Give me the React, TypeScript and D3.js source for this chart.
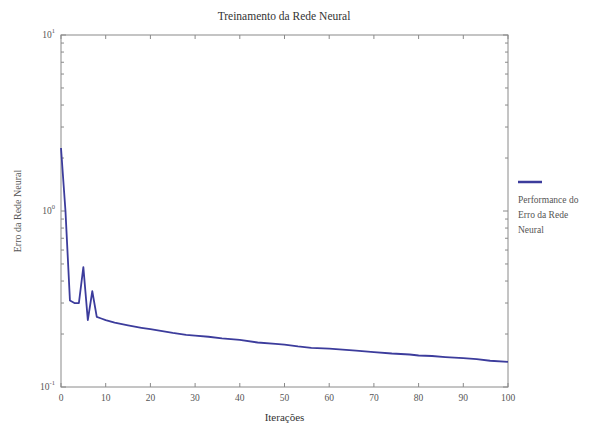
import { useMemo } from "react";
import * as d3 from "d3";

const W = 596;
const H = 424;
const M = { left: 61, right: 88, top: 35, bottom: 37 };

const iterations = [0, 1, 2, 3, 4, 5, 6, 7, 8, 9, 10, 12, 15, 18, 20, 22, 25, 28, 30, 33, 36, 40, 44, 48, 50, 53, 56, 60, 63, 66, 70, 74, 78, 80, 83, 86, 90, 93, 96, 100];
const errors = [2.28, 1.0, 0.31, 0.3, 0.3, 0.48, 0.24, 0.35, 0.25, 0.245, 0.24, 0.232, 0.224, 0.217, 0.213, 0.209, 0.203, 0.198, 0.196, 0.193, 0.189, 0.185, 0.179, 0.176, 0.174, 0.17, 0.167, 0.165, 0.163, 0.161, 0.158, 0.155, 0.153, 0.151, 0.15, 0.148, 0.146, 0.144, 0.141, 0.139];
const xTicks = [0, 10, 20, 30, 40, 50, 60, 70, 80, 90, 100];
const yMajor = [0.1, 1, 10];
const yExp = ["-1", "0", "1"];
const legendLines = ["Performance do", "Erro da Rede", "Neural"];

const AXIS = "#8a8a8a";
const TEXT = "#555";
const LINE = "#3c3c9c";
const FONT = "'Liberation Serif', 'DejaVu Serif', serif";

export default function App() {
  const iw = W - M.left - M.right;
  const ih = H - M.top - M.bottom;

  const x = d3.scaleLinear().domain([0, 100]).range([0, iw]);
  const y = d3.scaleLog().domain([0.1, 10]).range([ih, 0]);

  const path = useMemo(() => {
    const line = d3
      .line<number>()
      .x((_, i) => x(iterations[i]))
      .y((d) => y(d));
    return line(errors) || "";
  }, []);

  const minor: number[] = [];
  for (const base of [0.1, 1]) {
    for (let k = 2; k <= 9; k++) minor.push(base * k);
  }

  return (
    <svg width={W} height={H} style={{ position: "absolute", left: 0, top: 0, background: "#fff" }} fontFamily={FONT}>
      <text x={W / 2 - 14} y={20} textAnchor="middle" fontSize={11.5} fill="#333">
        Treinamento da Rede Neural
      </text>
      <g transform={`translate(${M.left},${M.top})`}>
        <rect x={0} y={0} width={iw} height={ih} fill="none" stroke={AXIS} strokeWidth={1} />
        {xTicks.map((t) => (
          <g key={t}>
            <line x1={x(t)} x2={x(t)} y1={ih} y2={ih - 4} stroke={AXIS} />
            <line x1={x(t)} x2={x(t)} y1={0} y2={4} stroke={AXIS} />
            <text x={x(t)} y={ih + 14} textAnchor="middle" fontSize={9.5} fill={TEXT}>
              {t}
            </text>
          </g>
        ))}
        {minor.map((v) => (
          <g key={v}>
            <line x1={0} x2={3} y1={y(v)} y2={y(v)} stroke={AXIS} />
            <line x1={iw} x2={iw - 3} y1={y(v)} y2={y(v)} stroke={AXIS} />
          </g>
        ))}
        {yMajor.map((v, i) => (
          <g key={v}>
            <line x1={0} x2={5} y1={y(v)} y2={y(v)} stroke={AXIS} />
            <line x1={iw} x2={iw - 5} y1={y(v)} y2={y(v)} stroke={AXIS} />
            <text x={-6} y={y(v) + 3} textAnchor="end" fontSize={9.5} fill={TEXT}>
              10
              <tspan dy={-5} fontSize={6.5}>
                {yExp[i]}
              </tspan>
            </text>
          </g>
        ))}
        <path d={path} fill="none" stroke={LINE} strokeWidth={1.8} strokeLinejoin="round" />
        <text x={iw / 2} y={ih + 34} textAnchor="middle" fontSize={11} fill="#333">
          Iterações
        </text>
        <text
          transform={`translate(${-40},${ih / 2}) rotate(-90)`}
          textAnchor="middle"
          fontSize={10}
          fill={TEXT}
        >
          Erro da Rede Neural
        </text>
      </g>
      <g transform={`translate(${M.left + iw + 10},${182})`}>
        <line x1={0} x2={24} y1={0} y2={0} stroke={LINE} strokeWidth={2.5} />
        {legendLines.map((s, i) => (
          <text key={s} x={0} y={21 + i * 15} fontSize={9.5} fill={TEXT}>
            {s}
          </text>
        ))}
      </g>
    </svg>
  );
}
